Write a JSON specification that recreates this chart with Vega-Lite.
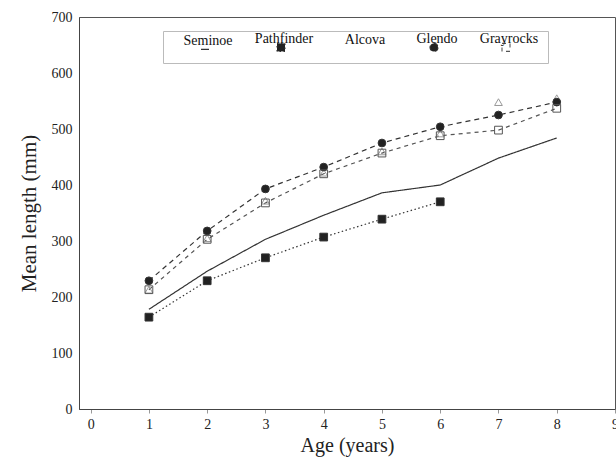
{
  "$schema": "https://vega.github.io/schema/vega-lite/v6.json",
  "width": 536,
  "height": 392,
  "autosize": "none",
  "padding": {"left": 79, "top": 17, "right": 1, "bottom": 52},
  "background": "white",
  "config": {
    "font": "Liberation Serif",
    "view": {"stroke": "#555", "strokeWidth": 1},
    "axis": {"grid": false, "domainColor": "#444", "labelFont": "Liberation Serif", "titleFont": "Liberation Serif", "labelColor": "#222", "titleColor": "#222", "titleFontWeight": "normal"},
    "legend": {
      "orient": "none", "direction": "horizontal", "columns": 5,
      "legendX": 84, "legendY": 14,
      "strokeColor": "#bbb", "padding": 9,
      "labelFont": "Liberation Serif", "labelFontSize": 14, "labelColor": "#111",
      "labelAlign": "center", "labelBaseline": "line-bottom", "labelLineHeight": 56, "labelOffset": -4,
      "symbolSize": 64, "symbolStrokeWidth": 1.1, "columnPadding": 15, "symbolOffset": 26
    }
  },
  "data": {
    "values": [
      {"age": 1, "site": "Seminoe", "len": 178},
      {"age": 2, "site": "Seminoe", "len": 246},
      {"age": 3, "site": "Seminoe", "len": 303},
      {"age": 4, "site": "Seminoe", "len": 346},
      {"age": 5, "site": "Seminoe", "len": 386},
      {"age": 6, "site": "Seminoe", "len": 400},
      {"age": 7, "site": "Seminoe", "len": 448},
      {"age": 8, "site": "Seminoe", "len": 484},
      {"age": 1, "site": "Pathfinder", "len": 164},
      {"age": 2, "site": "Pathfinder", "len": 229},
      {"age": 3, "site": "Pathfinder", "len": 270},
      {"age": 4, "site": "Pathfinder", "len": 307},
      {"age": 5, "site": "Pathfinder", "len": 339},
      {"age": 6, "site": "Pathfinder", "len": 370},
      {"age": 1, "site": "Alcova", "len": 213},
      {"age": 2, "site": "Alcova", "len": 305},
      {"age": 3, "site": "Alcova", "len": 372},
      {"age": 4, "site": "Alcova", "len": 422},
      {"age": 5, "site": "Alcova", "len": 460},
      {"age": 6, "site": "Alcova", "len": 492},
      {"age": 7, "site": "Alcova", "len": 548},
      {"age": 8, "site": "Alcova", "len": 555},
      {"age": 1, "site": "Glendo", "len": 229},
      {"age": 2, "site": "Glendo", "len": 318},
      {"age": 3, "site": "Glendo", "len": 393},
      {"age": 4, "site": "Glendo", "len": 432},
      {"age": 5, "site": "Glendo", "len": 475},
      {"age": 6, "site": "Glendo", "len": 504},
      {"age": 7, "site": "Glendo", "len": 525},
      {"age": 8, "site": "Glendo", "len": 548},
      {"age": 1, "site": "Grayrocks", "len": 213},
      {"age": 2, "site": "Grayrocks", "len": 303},
      {"age": 3, "site": "Grayrocks", "len": 368},
      {"age": 4, "site": "Grayrocks", "len": 420},
      {"age": 5, "site": "Grayrocks", "len": 457},
      {"age": 6, "site": "Grayrocks", "len": 488},
      {"age": 7, "site": "Grayrocks", "len": 498},
      {"age": 8, "site": "Grayrocks", "len": 537}
    ]
  },
  "encoding": {
    "x": {"field": "age", "type": "quantitative", "title": "Age (years)",
      "scale": {"domain": [-0.2, 9], "nice": false, "zero": false},
      "axis": {"values": [0,1,2,3,4,5,6,7,8,9], "tickSize": 4, "tickColor": "#999", "labelFontSize": 14, "labelPadding": 4, "titleFontSize": 20, "titlePadding": 4, "labelFlush": false}},
    "y": {"field": "len", "type": "quantitative", "title": "Mean length (mm)",
      "scale": {"domain": [0, 700], "nice": false},
      "axis": {"values": [0,100,200,300,400,500,600,700], "tickSize": 0, "labelFontSize": 14, "labelPadding": 7, "titleFontSize": 21, "titlePadding": 12}}
  },
  "layer": [
    {
      "mark": {"type": "line", "strokeWidth": 1.2},
      "encoding": {
        "detail": {"field": "site"},
        "color": {"field": "site", "type": "nominal", "title": null,
          "scale": {"domain": ["Seminoe", "Pathfinder", "Alcova", "Glendo", "Grayrocks"], "range": ["#333", "#333", "#999", "#333", "#555"]}},
        "strokeDash": {"field": "site", "type": "nominal", "title": null,
          "scale": {"domain": ["Seminoe", "Pathfinder", "Alcova", "Glendo", "Grayrocks"], "range": [[1, 0], [1.5, 2.5], [0, 100], [5, 4], [4, 4]]}}
      }
    },
    {
      "transform": [{"filter": "datum.site !== 'Seminoe'"}],
      "mark": {"type": "point", "strokeWidth": 1, "opacity": 1, "size": 60},
      "encoding": {
        "color": {"field": "site", "type": "nominal", "title": null},
        "shape": {"field": "site", "type": "nominal", "title": null,
          "scale": {"domain": ["Seminoe", "Pathfinder", "Alcova", "Glendo", "Grayrocks"], "range": ["M-1,0H1", "square", "triangle-up", "circle", "square"]}},
        "fill": {"field": "site", "type": "nominal", "title": null,
          "scale": {"domain": ["Seminoe", "Pathfinder", "Alcova", "Glendo", "Grayrocks"], "range": ["transparent", "#222", "transparent", "#222", "transparent"]}}
      }
    }
  ],
  "resolve": {"scale": {"color": "shared"}}
}
